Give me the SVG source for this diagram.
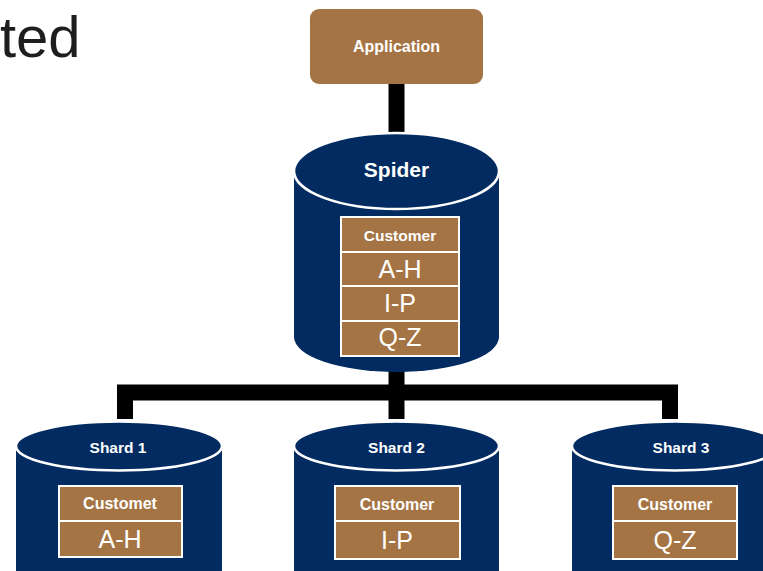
<svg xmlns="http://www.w3.org/2000/svg" width="763" height="571" viewBox="0 0 763 571">
<style>
.navy{fill:#022b61}
.sep{fill:#022b61;stroke:#ffffff;stroke-width:2.5}
.cell{fill:#a57444;stroke:#ffffff;stroke-width:2}
.lb{font-family:"Liberation Sans",Arial,sans-serif;font-weight:bold;fill:#ffffff;text-anchor:middle}
.lr{font-family:"Liberation Sans",Arial,sans-serif;fill:#ffffff;text-anchor:middle;font-size:25px}
.conn{fill:none;stroke:#000000;stroke-width:16;stroke-linejoin:miter}
</style>
<rect width="763" height="571" fill="#ffffff"/>
<text x="0" y="57" font-family="Liberation Sans, Arial, sans-serif" font-size="58" fill="#1e1e1e">ted</text>
<g id="connectors">
<path class="conn" d="M396.5,84 V134"/>
<path class="conn" d="M396.5,370 V419"/>
<path class="conn" d="M125,419 V392.5 H670 V419"/>
</g>
<g id="application">
<rect x="310" y="9" width="173" height="75" rx="9" fill="#a57444"/>
<text class="lb" x="396.5" y="52" font-size="16">Application</text>
</g>
<g id="spider">
<path class="navy" d="M294,171 V337 A102.5,35 0 0 0 499,337 V171 Z"/>
<ellipse class="sep" cx="396.5" cy="171" rx="102.5" ry="38"/>
<text class="lb" x="396.5" y="177" font-size="21">Spider</text>
<rect class="cell" x="341" y="217" width="118" height="35"/>
<rect class="cell" x="341" y="252" width="118" height="34"/>
<rect class="cell" x="341" y="286" width="118" height="35"/>
<rect class="cell" x="341" y="321" width="118" height="35"/>
<text class="lb" x="400" y="241" font-size="15.5">Customer</text>
<text class="lr" x="400" y="278">A-H</text>
<text class="lr" x="400" y="312">I-P</text>
<text class="lr" x="400" y="346">Q-Z</text>
</g>
<g id="shard1">
<path class="navy" d="M16,446 V600 H222 V446 Z"/>
<ellipse class="sep" cx="119" cy="446" rx="103" ry="24.5"/>
<text class="lb" x="118" y="453" font-size="15.5">Shard 1</text>
<rect class="cell" x="59" y="486" width="123" height="35"/>
<rect class="cell" x="59" y="521" width="123" height="36"/>
<text class="lb" x="120" y="509" font-size="16">Customet</text>
<text class="lr" x="120" y="548">A-H</text>
</g>
<g id="shard2">
<path class="navy" d="M294,446 V600 H499 V446 Z"/>
<ellipse class="sep" cx="396.5" cy="446" rx="102.5" ry="24.5"/>
<text class="lb" x="396.5" y="453" font-size="15.5">Shard 2</text>
<rect class="cell" x="335" y="486" width="125" height="35"/>
<rect class="cell" x="335" y="521" width="125" height="38"/>
<text class="lb" x="397" y="510" font-size="16">Customer</text>
<text class="lr" x="397" y="549">I-P</text>
</g>
<g id="shard3">
<path class="navy" d="M572,446 V600 H778 V446 Z"/>
<ellipse class="sep" cx="675" cy="446" rx="103" ry="24.5"/>
<text class="lb" x="681" y="453" font-size="15.5">Shard 3</text>
<rect class="cell" x="613" y="486" width="124" height="35"/>
<rect class="cell" x="613" y="521" width="124" height="38"/>
<text class="lb" x="675" y="510" font-size="16">Customer</text>
<text class="lr" x="675" y="549">Q-Z</text>
</g>
</svg>
